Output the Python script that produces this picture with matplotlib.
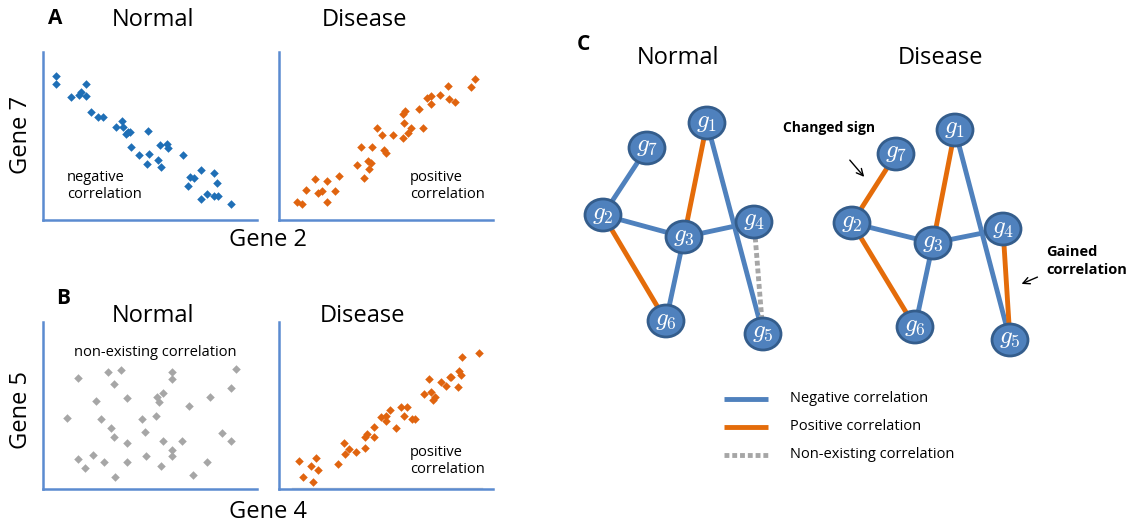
import matplotlib.pyplot as plt
from matplotlib.patches import Ellipse

plt.rcParams['font.family'] = ['Open Sans', 'DejaVu Sans']
plt.rcParams['mathtext.fontset'] = 'cm'

W, H = 1130, 529

# A: gene 2 (x) vs gene 7 (y)
a_norm_x = [0.59, 0.59, 1.29, 1.68, 1.76, 2.00, 2.02, 2.23, 2.58, 2.79, 3.40, 3.69, 3.72,
            3.88, 3.97, 4.07, 4.13, 4.50, 4.91, 4.95, 4.85, 5.37, 5.53, 5.48, 5.81, 5.86,
            6.56, 6.79, 6.87, 7.06, 7.40, 7.40, 7.68, 7.99, 8.14, 7.99, 8.18, 8.77]
a_norm_y = [8.57, 8.10, 7.30, 7.44, 7.64, 8.10, 7.40, 6.41, 6.15, 6.15, 5.55, 5.88, 5.52,
            5.10, 5.22, 5.22, 4.35, 3.85, 5.28, 3.93, 3.33, 3.57, 3.14, 4.46, 4.51, 4.27,
            3.87, 2.04, 2.58, 2.50, 2.98, 1.23, 1.53, 2.78, 2.18, 1.43, 1.43, 0.97]
a_dis_x = [0.86, 1.07, 1.28, 1.67, 1.81, 2.01, 2.23, 2.23, 2.63, 2.80, 3.64, 3.83, 3.97,
           4.16, 4.22, 4.31, 4.33, 4.91, 5.00, 4.60, 4.81, 5.33, 5.79, 5.83, 5.79, 5.90,
           6.01, 6.18, 6.56, 6.74, 6.93, 7.12, 7.12, 7.54, 7.88, 7.94, 8.22, 8.99, 9.17]
a_dis_y = [1.05, 0.97, 1.77, 2.44, 1.63, 1.71, 2.30, 1.05, 1.71, 2.60, 3.25, 4.35, 2.52,
           3.49, 3.04, 3.41, 4.35, 4.17, 3.99, 5.50, 5.08, 5.08, 4.86, 5.79, 6.33, 6.49,
           5.16, 5.48, 6.61, 5.50, 7.28, 7.36, 6.88, 7.44, 7.98, 7.20, 7.04, 7.92, 8.37]

# B: gene 4 (x) vs gene 5 (y)
b_norm_x = [1.64, 3.05, 3.64, 3.33, 6.01, 6.04, 9.00, 8.79, 2.49, 3.91, 5.31, 5.59, 5.40,
            6.84, 7.79, 1.12, 2.69, 4.64, 5.30, 3.16, 3.33, 4.77, 8.36, 8.79, 3.91, 5.62,
            6.51, 6.04, 1.64, 2.34, 2.87, 3.91, 4.83, 6.04, 5.53, 7.66, 1.98, 3.38, 6.99]
b_norm_y = [6.62, 7.02, 7.12, 6.26, 7.02, 6.56, 7.16, 6.02, 5.27, 5.43, 5.49, 5.73, 5.19,
            4.99, 5.49, 4.25, 4.17, 4.17, 4.39, 3.64, 3.14, 3.40, 3.34, 2.90, 2.78, 2.90,
            2.90, 2.31, 1.81, 2.05, 1.59, 1.59, 1.95, 1.95, 1.35, 1.63, 1.23, 0.74, 0.82]
b_dis_x = [0.92, 1.12, 1.48, 1.59, 1.71, 1.82, 2.76, 3.02, 3.10, 3.27, 3.61, 4.02, 4.03,
           4.11, 4.42, 4.44, 4.75, 4.98, 5.02, 5.17, 5.48, 5.69, 6.00, 5.84, 6.23, 6.36,
           6.78, 7.01, 7.12, 7.20, 7.31, 7.57, 7.79, 7.98, 8.05, 8.36, 8.41, 8.49, 8.57, 9.35]
b_dis_y = [1.65, 0.72, 1.35, 0.42, 1.85, 1.15, 1.51, 2.74, 2.11, 2.39, 2.23, 2.45, 3.14,
           3.30, 3.14, 3.74, 4.33, 4.39, 4.06, 4.73, 3.66, 4.93, 4.93, 4.39, 4.19, 4.19,
           5.69, 6.56, 5.83, 5.33, 5.53, 6.42, 6.16, 6.72, 6.68, 6.08, 7.06, 6.82, 7.91, 8.15]

# C: network layout (pixel positions) and edges
normal_pos = {1: (707, 123), 2: (603, 215), 3: (684, 237), 4: (754, 222),
              5: (763, 334), 6: (666, 321), 7: (647, 148)}
disease_pos = {1: (955, 130), 2: (852, 223), 3: (933, 243), 4: (1003, 229),
               5: (1010, 340), 6: (915, 327), 7: (896, 154)}
normal_edges = [(7, 2, 'neg'), (2, 3, 'neg'), (2, 6, 'pos'), (3, 1, 'pos'),
                (3, 6, 'neg'), (3, 4, 'neg'), (1, 5, 'neg'), (4, 5, 'none')]
disease_edges = [(7, 2, 'pos'), (2, 3, 'neg'), (2, 6, 'pos'), (3, 1, 'pos'),
                 (3, 6, 'neg'), (3, 4, 'neg'), (1, 5, 'neg'), (4, 5, 'pos')]

blue = '#4f81bd'
orange = '#e46c0a'
grey = '#a6a6a6'
axis_blue = '#5b8bd0'
edge_style = {'neg': dict(color=blue, linestyle='-'),
              'pos': dict(color=orange, linestyle='-'),
              'none': dict(color=grey, linestyle=(0, (1, 0.6)))}
legend_labels = {'neg': 'Negative correlation', 'pos': 'Positive correlation',
                 'none': 'Non-existing correlation'}

fig = plt.figure(figsize=(W / 100, H / 100), dpi=100)


def scatter_panel(left, top, right, bottom, xs, ys, color):
    ax = fig.add_axes([left / W, 1 - bottom / H, (right - left) / W, (bottom - top) / H])
    ax.scatter(xs, ys, marker='D', s=19, color=color, linewidths=0)
    ax.set_xlim(0, 10)
    ax.set_ylim(0, 10)
    ax.set_xticks([])
    ax.set_yticks([])
    ax.spines['top'].set_visible(False)
    ax.spines['right'].set_visible(False)
    for s in ['left', 'bottom']:
        ax.spines[s].set_color(axis_blue)
        ax.spines[s].set_linewidth(1.8)
    ax.patch.set_alpha(0)
    return ax


scatter_panel(43, 52, 257, 220, a_norm_x, a_norm_y, '#1f6fb6')
scatter_panel(279, 52, 493, 220, a_dis_x, a_dis_y, '#e0640f')
scatter_panel(43, 322, 257, 489, b_norm_x, b_norm_y, grey)
ax = scatter_panel(279, 322, 493, 489, b_dis_x, b_dis_y, '#e0640f')
ax.axhline(0.08, xmin=0.06, xmax=0.95, color='#d0d0d0', lw=1, zorder=0)

# overlay in pixel units for labels and the network
ov = fig.add_axes([0, 0, 1, 1])
ov.set_xlim(0, W)
ov.set_ylim(H, 0)
ov.axis('off')
ov.patch.set_alpha(0)

ov.text(55, 18, 'A', fontsize=15, fontweight='bold', ha='center', va='center')
ov.text(63, 298, 'B', fontsize=15, fontweight='bold', ha='center', va='center')
ov.text(583, 45, 'C', fontsize=15, fontweight='bold', ha='center', va='center')
for x, y, s in [(153, 20, 'Normal'), (365, 20, 'Disease'), (153, 316, 'Normal'),
                (363, 316, 'Disease'), (678, 58, 'Normal'), (941, 58, 'Disease')]:
    ov.text(x, y, s, fontsize=17, ha='center', va='center')
ov.text(268, 240, 'Gene 2', fontsize=17, ha='center', va='center')
ov.text(268, 512, 'Gene 4', fontsize=17, ha='center', va='center')
ov.text(21, 135, 'Gene 7', fontsize=17, ha='center', va='center', rotation=90)
ov.text(21, 410, 'Gene 5', fontsize=17, ha='center', va='center', rotation=90)
ov.text(67, 186, 'negative\ncorrelation', fontsize=10.5, ha='left', va='center', linespacing=1.25)
ov.text(410, 186, 'positive\ncorrelation', fontsize=10.5, ha='left', va='center', linespacing=1.25)
ov.text(410, 461, 'positive\ncorrelation', fontsize=10.5, ha='left', va='center', linespacing=1.25)
ov.text(155, 352, 'non-existing correlation', fontsize=10.5, ha='center', va='center')


def draw_network(pos, edges):
    for a, b, kind in edges:
        ov.plot([pos[a][0], pos[b][0]], [pos[a][1], pos[b][1]], lw=3.5,
                solid_capstyle='butt', dash_capstyle='butt', zorder=1, **edge_style[kind])
    for n, (x, y) in pos.items():
        ov.add_patch(Ellipse((x, y), 36, 32, facecolor=blue, edgecolor='#345d8c', lw=2, zorder=3))
        ov.text(x, y - 2, r'$g_{%d}$' % n, color='white', fontsize=18, ha='center', va='center', zorder=4)


draw_network(normal_pos, normal_edges)
draw_network(disease_pos, disease_edges)

ov.text(829, 128, 'Changed sign', fontsize=10, fontweight='bold', ha='center', va='center')
ov.annotate('', xy=(866, 179), xytext=(848, 158),
            arrowprops=dict(arrowstyle='->', color='black', lw=1, mutation_scale=12))
ov.text(1046, 261, 'Gained\ncorrelation', fontsize=10.5, fontweight='bold', ha='left', va='center',
        linespacing=1.3)
ov.annotate('', xy=(1019, 285), xytext=(1040, 276),
            arrowprops=dict(arrowstyle='->', color='black', lw=1, mutation_scale=12))

for i, kind in enumerate(['neg', 'pos', 'none']):
    y = 399 + i * 28
    ov.plot([724, 768], [y, y], lw=3.5, solid_capstyle='butt', dash_capstyle='butt',
            **edge_style[kind])
    ov.text(790, y - 1, legend_labels[kind], fontsize=10.5, ha='left', va='center')

fig.savefig('out.png', dpi=100)
